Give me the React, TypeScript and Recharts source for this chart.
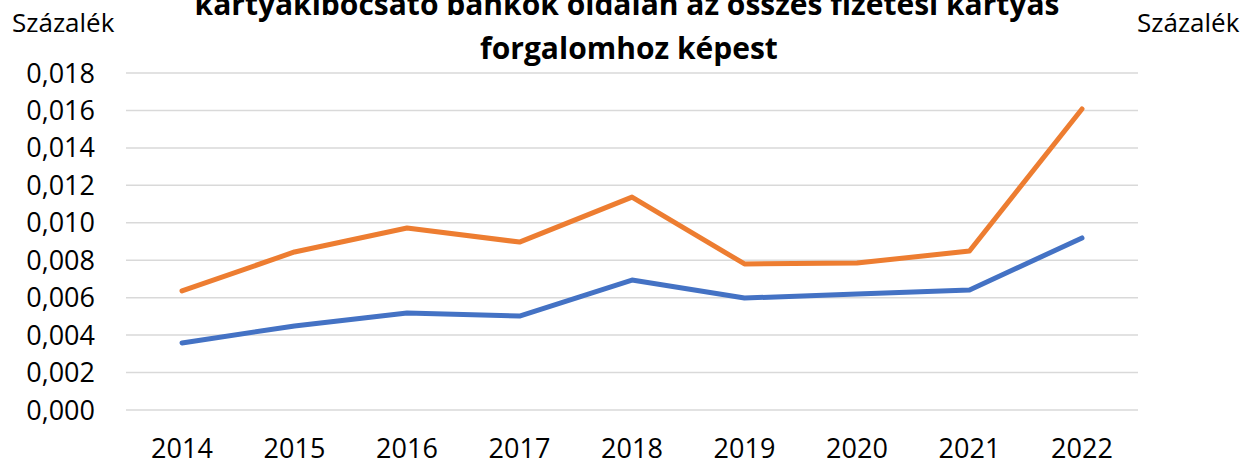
import React from 'react';
import { LineChart, Line, XAxis, YAxis, CartesianGrid } from 'recharts';

const years = ['2014', '2015', '2016', '2017', '2018', '2019', '2020', '2021', '2022'];
const orangeSeries = [0.00636, 0.00844, 0.00972, 0.00897, 0.01137, 0.0078, 0.00785, 0.00849, 0.01608];
const blueSeries = [0.00358, 0.00449, 0.00518, 0.00502, 0.00694, 0.00598, 0.0062, 0.00641, 0.00919];
const yTicks = [0, 0.002, 0.004, 0.006, 0.008, 0.01, 0.012, 0.014, 0.016, 0.018];
const titleLines = ['kártyakibocsátó bankok oldalán az összes fizetési kártyás', 'forgalomhoz képest'];
const unitLabel = 'Százalék';

const data = years.map((y, i) => ({ year: y, orange: orangeSeries[i], blue: blueSeries[i] }));

const FONT = '"Open Sans", sans-serif';
const fmt = (v: number) => v.toFixed(3).replace('.', ',');

export default function App() {
  return (
    <div style={{ position: 'absolute', left: 0, top: 0, width: 1251, height: 463, background: '#fff', overflow: 'hidden' }}>
      <LineChart width={1251} height={463} data={data} margin={{ top: 73, right: 0, bottom: 0, left: 0 }}>
        <CartesianGrid vertical={false} stroke="#D9D9D9" strokeWidth={1.5} yAxisId="left" />
        <XAxis
          dataKey="year"
          height={53}
          axisLine={false}
          tickLine={false}
          tickSize={0}
          tickMargin={29}
          padding={{ left: 56, right: 56 }}
          tick={{ fill: '#000', fontSize: 27, fontFamily: FONT }}
          interval={0}
        />
        <YAxis
          yAxisId="left"
          orientation="left"
          width={126}
          domain={[0, 0.018]}
          ticks={yTicks}
          axisLine={false}
          tickLine={false}
          tickSize={0}
          tickMargin={31}
          tickFormatter={fmt}
          tick={{ fill: '#000', fontSize: 27, fontFamily: FONT }}
          interval={0}
        />
        <YAxis
          yAxisId="right"
          orientation="right"
          width={113}
          domain={[0, 0.018]}
          ticks={yTicks}
          axisLine={false}
          tickLine={false}
          tickSize={0}
          tickMargin={29}
          tickFormatter={fmt}
          tick={{ fill: '#000', fontSize: 27, fontFamily: FONT, textAnchor: 'start' }}
          interval={0}
        />
        <Line yAxisId="left" type="linear" dataKey="orange" stroke="#ED7D31" strokeWidth={5} dot={false} isAnimationActive={false} strokeLinecap="round" strokeLinejoin="round" />
        <Line yAxisId="left" type="linear" dataKey="blue" stroke="#4472C4" strokeWidth={5} dot={false} isAnimationActive={false} strokeLinecap="round" strokeLinejoin="round" />
      </LineChart>
      <svg width={1251} height={463} style={{ position: 'absolute', left: 0, top: 0, pointerEvents: 'none' }}>
        <text x={627} y={15} textAnchor="middle" fontFamily={FONT} fontWeight={700} fontSize={30} fill="#000">{titleLines[0]}</text>
        <text x={629} y={59} textAnchor="middle" fontFamily={FONT} fontWeight={700} fontSize={30} fill="#000">{titleLines[1]}</text>
        <text x={12} y={32} fontFamily={FONT} fontSize={26} fill="#000">{unitLabel}</text>
        <text x={1137} y={32} fontFamily={FONT} fontSize={26} fill="#000">{unitLabel}</text>
      </svg>
    </div>
  );
}
